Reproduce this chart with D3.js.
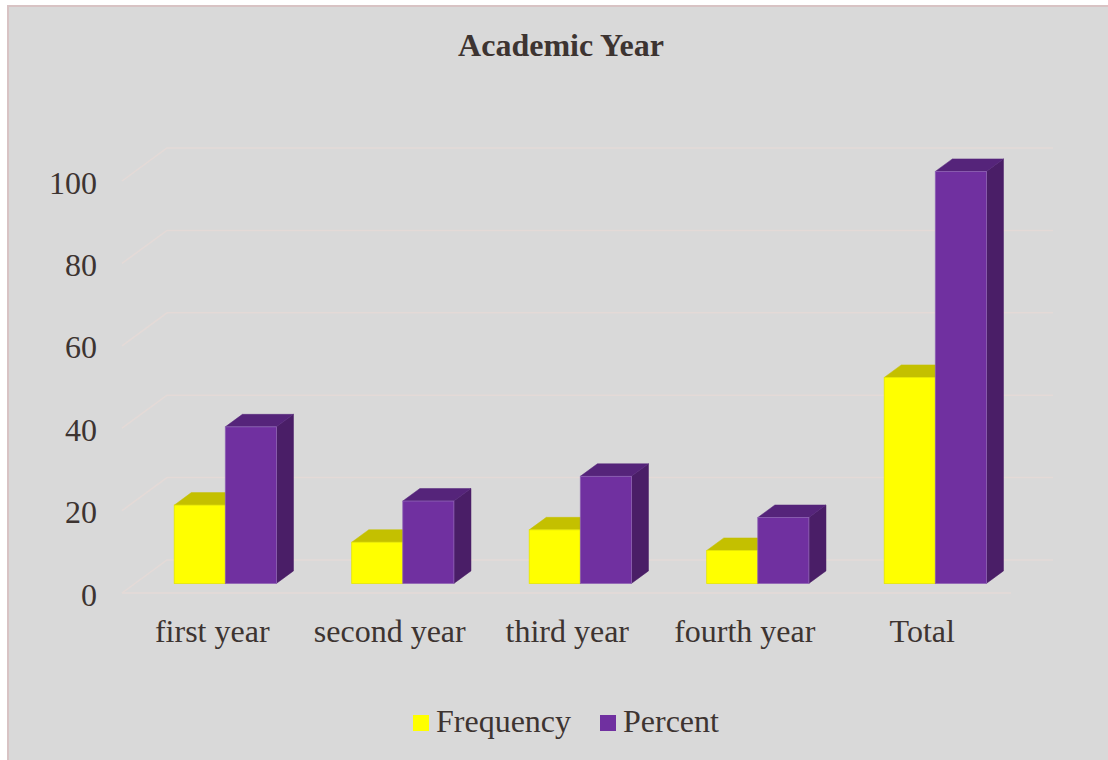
<!DOCTYPE html>
<html>
<head>
<meta charset="utf-8">
<script src="https://cdn.jsdelivr.net/npm/d3@7"></script>
<style>
  html, body { margin: 0; padding: 0; background: #ffffff; }
  svg { display: block; }
  text { font-family: "Liberation Serif", "Times New Roman", serif; fill: #3d3431; }
</style>
</head>
<body>
<svg id="chart" width="1108" height="760"></svg>
<script>
// Academic year breakdown: frequency and percent of respondents
const categories = ["first year", "second year", "third year", "fourth year", "Total"];
const seriesNames = ["Frequency", "Percent"];
const frequency = [19, 10, 13, 8, 50];
const percent = [38, 20, 26, 16, 100];
const yTicks = [0, 20, 40, 60, 80, 100];
const chartTitle = "Academic Year";

const seriesValues = [frequency, percent];
const colors = {
  Frequency: { front: "#ffff00", top: "#c4c000", side: "#a9a600", edge: "#e6e600" },
  Percent:   { front: "#7030a0", top: "#55247a", side: "#4a1e67", edge: "#8e62b4" }
};
const fontSize = "32px";
const serif = '"Liberation Serif", "Times New Roman", serif';

const svg = d3.select("#chart");

// Chart area background and border
svg.append("rect")
  .attr("x", 8).attr("y", 6).attr("width", 1200).attr("height", 800)
  .attr("fill", "#d9d9d9").attr("stroke", "#d8c3c4").attr("stroke-width", 2);

// Oblique 3D projection: depth d in [0,1] shifts right and up
const depthDX = 45, depthDY = -33;
const proj = (x, y, d) => [x + d * depthDX, y + d * depthDY];

// Scales on the front plane (d = 0)
const floorLeft = 122, floorRight = 1011;
const x = d3.scaleBand().domain(categories).range([123.5, 1011]).padding(0);
const y = d3.scaleLinear().domain([0, 100]).range([593, 181]);
const xSub = d3.scaleBand().domain(seriesNames).range([0, x.bandwidth()])
  .paddingInner(0).paddingOuter(0.737);

// Gridlines: diagonal along the side wall, then across the back wall
const wallRight = 1053;
const grid = svg.append("g").attr("fill", "none").attr("stroke", "#e4dad7").attr("stroke-width", 1.5);
yTicks.forEach(v => {
  const f = proj(floorLeft, y(v), 0);
  const b = proj(floorLeft, y(v), 1);
  grid.append("path").attr("d", d3.line()([f, b, [wallRight, b[1]]]));
});
// Front edge of the floor
grid.append("path").attr("d", d3.line()([[floorLeft, y(0)], [floorRight, y(0)]]));

// Bars as boxes
const barFront = 0.29, barBack = 0.67;
const bars = svg.append("g");
const poly = pts => "M" + pts.map(q => q.join(",")).join("L") + "Z";
categories.forEach((cat, i) => {
  seriesNames.forEach((s, j) => {
    const v = seriesValues[j][i];
    const x0 = x(cat) + xSub(s), x1 = x0 + xSub.bandwidth();
    const yb = y(0), yt = y(v);
    const c = colors[s];
    // right side face
    bars.append("path")
      .attr("d", poly([proj(x1, yt, barFront), proj(x1, yt, barBack), proj(x1, yb, barBack), proj(x1, yb, barFront)]))
      .attr("fill", c.side).attr("stroke", c.side).attr("stroke-width", 0.5);
    // top face
    bars.append("path")
      .attr("d", poly([proj(x0, yt, barFront), proj(x0, yt, barBack), proj(x1, yt, barBack), proj(x1, yt, barFront)]))
      .attr("fill", c.top).attr("stroke", c.top).attr("stroke-width", 0.5);
    // front face
    const ftl = proj(x0, yt, barFront), fbr = proj(x1, yb, barFront);
    bars.append("rect")
      .attr("x", ftl[0]).attr("y", ftl[1])
      .attr("width", fbr[0] - ftl[0]).attr("height", fbr[1] - ftl[1])
      .attr("fill", c.front).attr("stroke", c.edge).attr("stroke-width", 0.8);
  });
});

// Value axis labels (front plane)
const yAxis = d3.axisLeft(y).tickValues(yTicks).tickSize(0).tickPadding(0);
const gy = svg.append("g").attr("transform", "translate(97,0)").call(yAxis);
gy.select(".domain").remove();
gy.selectAll("text")
  .attr("dy", "0.38em")
  .style("font-family", serif)
  .style("font-size", fontSize).attr("fill", "#3d3431");

// Category labels
const xAxis = d3.axisBottom(x).tickSize(0).tickPadding(0);
const gx = svg.append("g").attr("transform", "translate(0,642)").call(xAxis);
gx.select(".domain").remove();
gx.selectAll("text")
  .attr("y", 0).attr("dy", 0)
  .style("font-family", serif)
  .style("font-size", fontSize).attr("fill", "#3d3431");

// Title
svg.append("text")
  .attr("x", 561).attr("y", 56).attr("text-anchor", "middle")
  .style("font-size", fontSize).style("font-weight", "bold")
  .text(chartTitle);

// Legend
const legendItems = [{ name: "Frequency", x: 413 }, { name: "Percent", x: 600 }];
const lg = svg.append("g");
legendItems.forEach(d => {
  lg.append("rect").attr("x", d.x).attr("y", 715).attr("width", 16).attr("height", 16)
    .attr("fill", colors[d.name].front);
  lg.append("text").attr("x", d.x + 23).attr("y", 732)
    .style("font-size", fontSize).text(d.name);
});
</script>
</body>
</html>
